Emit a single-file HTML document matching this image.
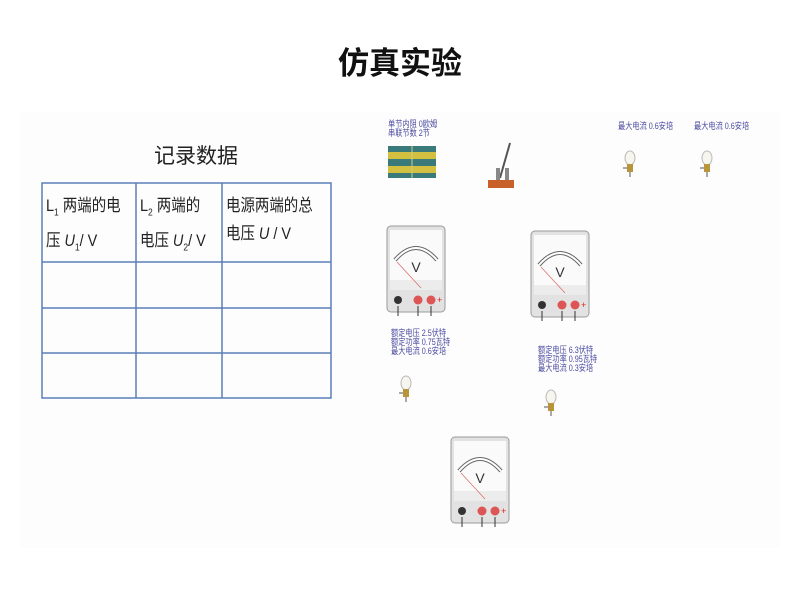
<!DOCTYPE html>
<html><head><meta charset="utf-8"><style>
body{margin:0;width:800px;height:600px;background:#fff;position:relative;overflow:hidden;font-family:"Liberation Sans","Noto Sans CJK SC",sans-serif}
.a{position:absolute}
.lbl{position:absolute;color:#4a4aa0;font-size:9px;line-height:9px;white-space:nowrap;transform:scaleX(0.8);transform-origin:left top}
.th{position:absolute;font-size:17px;line-height:28px;color:#222;transform:scaleX(0.85);transform-origin:left top;white-space:nowrap}
</style></head><body>
<div class="a" style="left:0;top:38px;width:800px;text-align:center;font-size:31px;font-weight:bold;color:#111">仿真实验</div>
<div class="a" style="left:20px;top:112px;width:760px;height:436px;background:#fdfdfd"></div>
<div class="a" style="left:154px;top:140px;font-size:21px;color:#222">记录数据</div>
<svg class="a" style="left:0;top:0" width="800" height="600">
<g stroke="#5a7fb8" stroke-width="1.5" fill="none">
<rect x="42" y="183" width="289" height="215"/>
<line x1="42" y1="262" x2="331" y2="262"/><line x1="42" y1="308" x2="331" y2="308"/><line x1="42" y1="353" x2="331" y2="353"/>
<line x1="136" y1="183" x2="136" y2="398"/><line x1="222" y1="183" x2="222" y2="398"/>
</g>
<defs><g id="vm">
<rect x="0" y="0" width="58" height="86" rx="4" fill="#e2e2e2" stroke="#999"/>
<rect x="3" y="4" width="52" height="50" fill="#fafafa"/>
<rect x="3" y="54" width="52" height="10" fill="#ececec"/>
<path d="M8 34 Q29 10 50 34" fill="none" stroke="#666" stroke-width="4"/>
<path d="M8 34 Q29 10 50 34" fill="none" stroke="#fff" stroke-width="2"/>
<text x="29" y="46" font-size="14" text-anchor="middle" fill="#333" font-family="Liberation Sans">V</text>
<line x1="10" y1="36" x2="34" y2="62" stroke="#d66" stroke-width="0.7"/>
<circle cx="11" cy="74" r="4" fill="#333"/><circle cx="31" cy="74" r="4.5" fill="#d55"/><circle cx="44" cy="74" r="4.5" fill="#d55"/>
<text x="50" y="77" font-size="9" fill="#d22">+</text>
<line x1="11" y1="80" x2="11" y2="90" stroke="#333"/><line x1="31" y1="80" x2="31" y2="90" stroke="#333"/><line x1="44" y1="80" x2="44" y2="90" stroke="#333"/>
</g>
<g id="bulb"><ellipse cx="5" cy="8" rx="5" ry="7" fill="#f6f6ee" stroke="#bbb"/><rect x="2" y="14" width="6" height="8" fill="#b8953a"/><line x1="5" y1="22" x2="5" y2="27" stroke="#555"/><line x1="-2" y1="18" x2="2" y2="18" stroke="#555"/></g>
</defs>
<use href="#vm" x="387" y="226"/><use href="#vm" x="531" y="231"/><use href="#vm" x="451" y="437"/>
<use href="#bulb" x="625" y="150"/><use href="#bulb" x="702" y="150"/><use href="#bulb" x="401" y="375"/><use href="#bulb" x="546" y="389"/>
<rect x="388" y="146" width="48" height="32" fill="#3a7a7a"/>
<rect x="388" y="152" width="48" height="7" fill="#d4c040"/><rect x="388" y="166" width="48" height="7" fill="#d4c040"/>
<line x1="412" y1="146" x2="412" y2="178" stroke="#cc8" stroke-width="1"/>
<rect x="488" y="180" width="26" height="8" fill="#c8602a"/>
<line x1="500" y1="178" x2="510" y2="143" stroke="#555" stroke-width="2"/>
<rect x="496" y="168" width="4" height="12" fill="#888"/><rect x="505" y="168" width="4" height="12" fill="#888"/>
</svg>
<div class="th" style="left:46px;top:192px">L<sub style="font-size:10px">1</sub> 两端的电<br>压 <i>U</i><sub style="font-size:10px">1</sub>/ V</div>
<div class="th" style="left:140px;top:192px">L<sub style="font-size:10px">2</sub> 两端的<br>电压 <i>U</i><sub style="font-size:10px">2</sub>/ V</div>
<div class="th" style="left:226px;top:192px">电源两端的总<br>电压 <i>U</i> / V</div>
<div class="lbl" style="left:388px;top:120px">单节内阻 0欧姆<br>串联节数 2节</div>
<div class="lbl" style="left:618px;top:122px">最大电流 0.6安培</div>
<div class="lbl" style="left:694px;top:122px">最大电流 0.6安培</div>
<div class="lbl" style="left:391px;top:329px">额定电压 2.5伏特<br>额定功率 0.75瓦特<br>最大电流 0.6安培</div>
<div class="lbl" style="left:538px;top:346px">额定电压 6.3伏特<br>额定功率 0.95瓦特<br>最大电流 0.3安培</div>
</body></html>
